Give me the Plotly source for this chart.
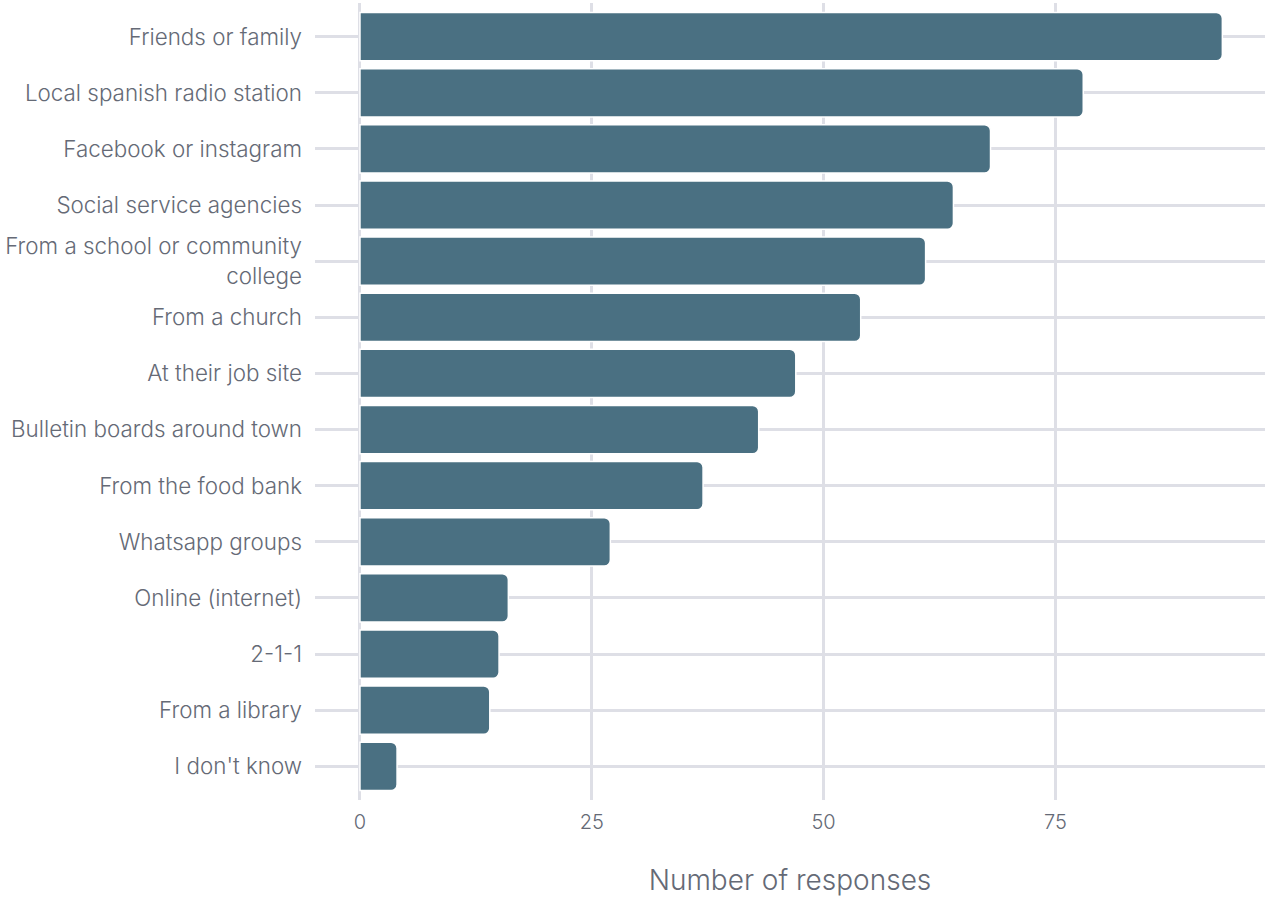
import plotly.graph_objects as go

categories = [
    "Friends or family",
    "Local spanish radio station",
    "Facebook or instagram",
    "Social service agencies",
    "From a school or community<br>college",
    "From a church",
    "At their job site",
    "Bulletin boards around town",
    "From the food bank",
    "Whatsapp groups",
    "Online (internet)",
    "2-1-1",
    "From a library",
    "I don't know",
]
counts = [93, 78, 68, 64, 61, 54, 47, 43, 37, 27, 16, 15, 14, 4]
x_ticks = [0, 25, 50, 75]

text_color = "#656a76"
grid_color = "#dedfe6"
font_family = "Inter, Lato, 'Open Sans', sans-serif"

fig = go.Figure(
    go.Bar(
        x=counts,
        y=categories,
        orientation="h",
        width=0.86,
        marker=dict(color="#4a7082", line=dict(color="white", width=1.5), cornerradius=6),
        hoverinfo="x+y",
    )
)

fig.update_layout(
    width=1269,
    height=898,
    margin=dict(l=315, r=4, t=3, b=98),
    plot_bgcolor="white",
    paper_bgcolor="white",
    showlegend=False,
    font=dict(family=font_family, color=text_color, size=22, weight=300),
)
fig.update_xaxes(
    range=[-4.85, 97.6],
    tickvals=x_ticks,
    ticktext=[str(v) for v in x_ticks],
    showgrid=True,
    gridcolor=grid_color,
    gridwidth=2.5,
    zeroline=False,
    showline=False,
    ticks="",
    ticklabelstandoff=8,
    tickfont=dict(size=20, color=text_color, weight=300),
    title=dict(text="Number of responses", font=dict(size=28, color=text_color, weight=300), standoff=37),
)
fig.update_yaxes(
    categoryorder="array",
    categoryarray=categories[::-1],
    range=[-0.6, 13.6],
    showgrid=True,
    gridcolor=grid_color,
    gridwidth=2.5,
    zeroline=False,
    showline=False,
    ticks="",
    ticklabelstandoff=12,
    tickfont=dict(size=22.4, color=text_color, weight=300),
)

fig.write_html(
    "out.html",
    config={"displayModeBar": False},
    post_script="document.body.style.margin='0px';document.body.style.padding='0px';",
)
